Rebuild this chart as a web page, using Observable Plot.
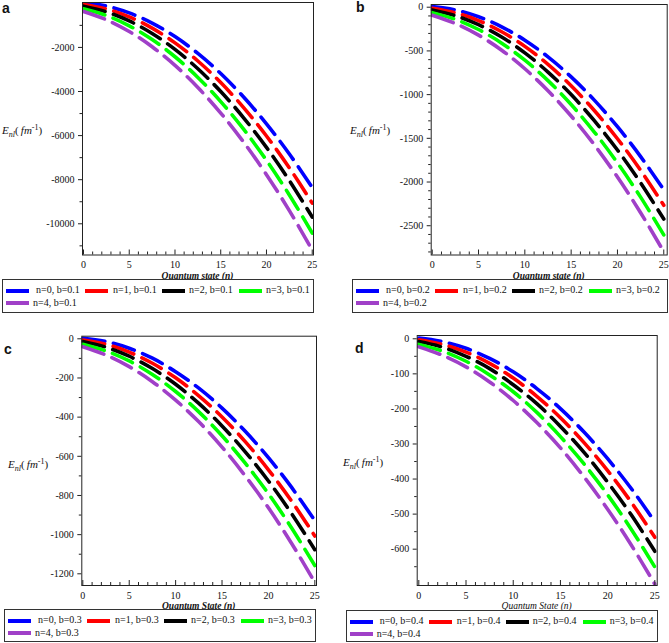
<!DOCTYPE html>
<html>
<head>
<meta charset="utf-8">
<script src="https://cdn.jsdelivr.net/npm/d3@7"></script>
<script src="https://cdn.jsdelivr.net/npm/@observablehq/plot@0.6"></script>
<style>
  html, body { margin: 0; padding: 0; background: #fff; }
  #root { position: relative; width: 669px; height: 643px; overflow: hidden; background: #fff; }
  .abs { position: absolute; }
  .letter { font-family: "Liberation Sans", Arial, sans-serif; font-weight: bold; font-size: 14px; line-height: 14px; color: #111; }
  .serif { font-family: "Liberation Serif", "DejaVu Serif", "Times New Roman", Times, serif; }
  .ylab { font-size: 11px; line-height: 12px; color: #111; white-space: nowrap; }
  .ylab sub { font-size: 8px; vertical-align: -3px; }
  .ylab sup { font-size: 8px; vertical-align: 4px; }
  .xlab { font-size: 9.5px; font-style: italic; font-weight: bold; color: #111; white-space: nowrap; transform: translate(-50%, -50%); line-height: 10px; }
  .legend { border: 1px solid #333; box-sizing: border-box; background: #fff; }
  .sw { position: absolute; height: 4px; width: 23px; }
  .lt { position: absolute; font-size: 10px; line-height: 10px; color: #111; white-space: nowrap; }
  svg text { font-family: "Liberation Serif", "DejaVu Serif", "Times New Roman", Times, serif !important; }
</style>
</head>
<body>
<div id="root"></div>
<script>
// ---------- data ----------
const nVals = [0, 2.5, 5, 7.5, 10, 12.5, 15, 17.5, 20, 22.5, 25];
const seriesN = ["n=0", "n=1", "n=2", "n=3", "n=4"];
const seriesColors = ["#0000ff", "#ff0000", "#000000", "#00ff00", "#a040c8"];

// panel a, b = 0.1
const a0 = [30, -123, -434, -895, -1508, -2271, -3186, -4251, -5467, -6834, -8352];
const a1 = [-53, -255, -613, -1125, -1793, -2616, -3595, -4729, -6018, -7462, -9062];
const a2 = [-130, -386, -798, -1365, -2088, -2967, -4001, -5191, -6536, -8038, -9694];
const a3 = [-248, -555, -1020, -1642, -2423, -3361, -4457, -5711, -7123, -8693, -10420];
const a4 = [-370, -746, -1278, -1968, -2814, -3818, -4979, -6296, -7771, -9402, -11193];
// panel b, b = 0.2
const b0 = [8, -31, -109, -224, -377, -568, -797, -1063, -1367, -1709, -2088];
const b1 = [-13, -64, -153, -281, -448, -654, -899, -1182, -1505, -1866, -2266];
const b2 = [-33, -97, -200, -341, -522, -742, -1000, -1298, -1634, -2010, -2424];
const b3 = [-62, -139, -255, -411, -606, -840, -1114, -1428, -1781, -2173, -2605];
const b4 = [-93, -187, -320, -492, -704, -955, -1245, -1574, -1943, -2351, -2798];
// panel c, b = 0.3
const c0 = [3, -14, -48, -99, -168, -252, -354, -472, -607, -759, -928];
const c1 = [-6, -28, -68, -125, -199, -291, -399, -525, -669, -829, -1007];
const c2 = [-14, -43, -89, -152, -232, -330, -445, -577, -726, -893, -1077];
const c3 = [-28, -62, -113, -182, -269, -373, -495, -635, -791, -966, -1158];
const c4 = [-41, -83, -142, -219, -313, -424, -553, -700, -863, -1045, -1244];
// panel d, b = 0.4
const d0 = [2, -8, -27, -56, -94, -142, -199, -266, -342, -427, -522];
const d1 = [-3, -16, -38, -70, -112, -164, -225, -296, -376, -466, -566];
const d2 = [-8, -24, -50, -85, -131, -185, -250, -324, -409, -502, -606];
const d3 = [-16, -35, -64, -103, -151, -210, -279, -357, -445, -543, -651];
const d4 = [-23, -47, -80, -123, -176, -239, -311, -394, -486, -588, -700];

// tick labels
const xMajor = [0, 5, 10, 15, 20, 25];
const xMinor = [1, 2, 3, 4, 6, 7, 8, 9, 11, 12, 13, 14, 16, 17, 18, 19, 21, 22, 23, 24];
const aYTicks = [-2000, -4000, -6000, -8000, -10000];
const aYMinor = [-1000, -3000, -5000, -7000, -9000, -11000];
const bYTicks = [0, -500, -1000, -1500, -2000, -2500];
const bYMinor = [-100, -200, -300, -400, -600, -700, -800, -900, -1100, -1200, -1300, -1400,
                 -1600, -1700, -1800, -1900, -2100, -2200, -2300, -2400, -2600, -2700, -2800];
const cYTicks = [0, -200, -400, -600, -800, -1000, -1200];
const cYMinor = [-100, -300, -500, -700, -900, -1100];
const dYTicks = [0, -100, -200, -300, -400, -500, -600];
const dYMinor = [-50, -150, -250, -350, -450, -550, -650];

const panelLetters = ["a", "b", "c", "d"];
const bValues = ["0.1", "0.2", "0.3", "0.4"];
const xTitles = ["Quantum state (n)", "Quantum state (n)", "Quantum State (n)", "Quantum State (n)"];

// ---------- layout ----------
const panels = [
  { series: [a0, a1, a2, a3, a4], yTicks: aYTicks, yMinor: aYMinor,
    box: { left: 0, top: 0, width: 335, height: 320 }, m: { left: 82, right: 22, top: 2, bottom: 65.5 },
    xDom: [-0.11, 25.14], yDom: [-11416, 37.6],
    letter: { left: 2, top: 1 }, ylab: { left: 2, top: 128 }, xlab: { x: 197.5, y: 275.7 },
    legend: { left: 2, top: 279, width: 312, height: 34 }, xBold: true },
  { series: [b0, b1, b2, b3, b4], yTicks: bYTicks, yMinor: bYMinor,
    box: { left: 335, top: 0, width: 334, height: 320 }, m: { left: 95.7, right: 2.3, top: 4, bottom: 65.5 },
    xDom: [-0.11, 25.37], yDom: [-2835, 31],
    letter: { left: 356, top: 0 }, ylab: { left: 350, top: 128 }, xlab: { x: 548.7, y: 275.7 },
    legend: { left: 352, top: 279, width: 316, height: 34 }, xBold: true },
  { series: [c0, c1, c2, c3, c4], yTicks: cYTicks, yMinor: cYMinor,
    box: { left: 0, top: 320, width: 335, height: 323 }, m: { left: 81.3, right: 19, top: 15.7, bottom: 58 },
    xDom: [-0.11, 25.18], yDom: [-1259.7, 13.3],
    letter: { left: 4, top: 342 }, ylab: { left: 8, top: 461.7 }, xlab: { x: 198.7, y: 605.5 },
    legend: { left: 4, top: 609, width: 312, height: 33 }, xBold: true },
  { series: [d0, d1, d2, d3, d4], yTicks: dYTicks, yMinor: dYMinor,
    box: { left: 335, top: 320, width: 334, height: 323 }, m: { left: 81.7, right: 12.3, top: 15, bottom: 58 },
    xDom: [-0.17, 25.25], yDom: [-703.6, 9.4],
    letter: { left: 355, top: 341 }, ylab: { left: 343, top: 460 }, xlab: { x: 536.7, y: 605.7 },
    legend: { left: 345.7, top: 610, width: 312, height: 32 }, xBold: false }
];

const root = document.getElementById("root");
const serifStack = "'Liberation Serif', 'DejaVu Serif', 'Times New Roman', Times, serif";

panels.forEach((p, pi) => {
  const marks = [];
  p.series.forEach((vals, k) => {
    const rows = nVals.map((n, i) => ({ n, E: vals[i] }));
    marks.push(Plot.line(rows, {
      x: "n", y: "E", stroke: seriesColors[k], strokeWidth: 3.6,
      strokeDasharray: "22,9", curve: "catmull-rom", clip: true
    }));
  });
  marks.push(Plot.frame({ stroke: "#222", strokeWidth: 1 }));
  marks.push(Plot.axisX({ ticks: xMajor, tickSize: 0, tickPadding: 6, tickFormat: d => String(d), fill: "#111", fontFamily: serifStack }));
  marks.push(Plot.axisX({ ticks: xMajor, tickSize: -5, tickFormat: () => "", stroke: "#222" }));
  marks.push(Plot.axisX({ ticks: xMinor, tickSize: -3, tickFormat: () => "", stroke: "#222" }));
  marks.push(Plot.axisY({ ticks: p.yTicks, tickSize: 4, tickPadding: 4, tickFormat: d => String(d), fill: "#111", stroke: "#222", fontFamily: serifStack }));
  marks.push(Plot.axisY({ ticks: p.yMinor, tickSize: 2.5, tickFormat: () => "", stroke: "#222" }));

  const svg = Plot.plot({
    width: p.box.width, height: p.box.height,
    marginLeft: p.m.left, marginRight: p.m.right, marginTop: p.m.top, marginBottom: p.m.bottom,
    x: { domain: p.xDom, label: null },
    y: { domain: p.yDom, label: null },
    style: { fontFamily: serifStack, fontSize: "10px", background: "transparent", overflow: "visible" },
    marks
  });
  svg.style.position = "absolute";
  svg.style.left = p.box.left + "px";
  svg.style.top = p.box.top + "px";
  root.appendChild(svg);

  const L = document.createElement("div");
  L.className = "abs letter";
  L.style.left = p.letter.left + "px";
  L.style.top = p.letter.top + "px";
  L.textContent = panelLetters[pi];
  root.appendChild(L);

  const Y = document.createElement("div");
  Y.className = "abs ylab serif";
  Y.style.left = p.ylab.left + "px";
  Y.style.top = (p.ylab.top - 6) + "px";
  Y.innerHTML = '<i>E</i><sub><i>nl</i></sub>(<i>&#8201;fm</i><sup>-1</sup>)';
  root.appendChild(Y);

  const X = document.createElement("div");
  X.className = "abs xlab serif";
  X.style.left = p.xlab.x + "px";
  X.style.top = p.xlab.y + "px";
  if (!p.xBold) X.style.fontWeight = "normal";
  X.textContent = xTitles[pi];
  root.appendChild(X);

  const G = document.createElement("div");
  G.className = "abs legend";
  G.style.left = p.legend.left + "px";
  G.style.top = p.legend.top + "px";
  G.style.width = p.legend.width + "px";
  G.style.height = p.legend.height + "px";
  const swX = [3, 82, 159, 236, 3];
  const txX = [33, 110, 186, 263, 30];
  const rowY = [10.5, 23];
  seriesN.forEach((s, k) => {
    const r = k < 4 ? 0 : 1;
    const sw = document.createElement("div");
    sw.className = "sw";
    sw.style.left = swX[k] + "px";
    sw.style.top = (rowY[r] - 2) + "px";
    sw.style.background = seriesColors[k];
    G.appendChild(sw);
    const t = document.createElement("div");
    t.className = "lt serif";
    t.style.left = txX[k] + "px";
    t.style.top = (rowY[r] - 5.5) + "px";
    t.textContent = s + ", b=" + bValues[pi];
    G.appendChild(t);
  });
  root.appendChild(G);
});
</script>
</body>
</html>
